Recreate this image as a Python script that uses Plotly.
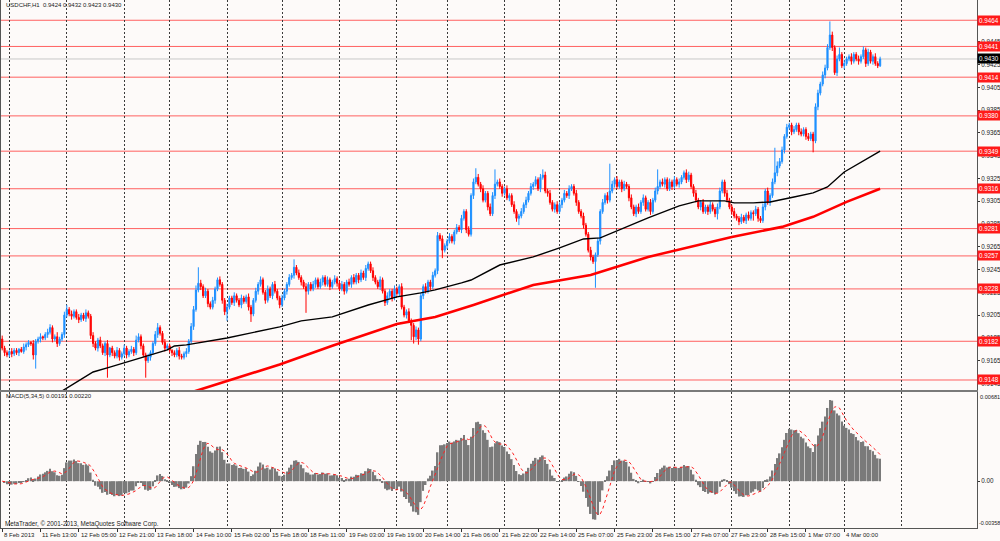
import plotly.graph_objects as go
import pandas as pd

# USDCHF H1, bars from 8 Feb 2013 21:00. Prices kept in pips above 0.9000.
# open of each bar = close of the bar before
FIRST_OPEN = 184
CLOSE_PIPS = [
    176, 172, 170, 173, 171, 174, 172, 175, 173, 177, 179, 181, 180, 170, 182, 184, 186, 185, 188, 190,
    194, 184, 186, 180, 184, 188, 205, 210, 206, 204, 208, 203, 201, 205, 202, 207, 204, 187, 180, 176,
    183, 178, 172, 180, 170, 176, 172, 169, 174, 168, 171, 176, 170, 173, 175, 172, 183, 186, 178, 170,
    165, 168, 172, 180, 188, 194, 189, 181, 176, 178, 174, 172, 170, 174, 169, 168, 171, 173, 182, 195,
    210, 227, 233, 230, 222, 226, 215, 212, 218, 228, 236, 232, 218, 208, 212, 220, 216, 222, 218, 214,
    220, 217, 221, 212, 206, 218, 226, 232, 236, 225, 218, 228, 222, 232, 226, 220, 214, 220, 226, 232,
    238, 240, 247, 242, 238, 234, 230, 226, 232, 228, 232, 236, 230, 234, 238, 232, 236, 230, 234, 237,
    233, 228, 232, 226, 234, 232, 238, 234, 240, 236, 242, 238, 246, 250, 244, 238, 234, 230, 236, 226,
    216, 222, 226, 220, 228, 224, 230, 212, 205, 208, 200, 196, 186, 192, 184, 222, 230, 226, 234, 230,
    240, 244, 275, 272, 262, 266, 270, 274, 270, 278, 282, 280, 290, 296, 280, 276, 310, 322, 326, 320,
    316, 306, 312, 300, 294, 310, 320, 322, 318, 312, 316, 308, 310, 302, 296, 290, 292, 296, 302, 306,
    312, 318, 320, 324, 316, 326, 328, 314, 312, 304, 298, 302, 296, 302, 306, 312, 310, 316, 318, 312,
    304, 296, 292, 284, 276, 262, 256, 252, 258, 270, 296, 304, 310, 306, 314, 320, 324, 318, 322, 316,
    320, 318, 308, 300, 294, 300, 296, 304, 308, 298, 304, 296, 306, 314, 318, 322, 320, 324, 316, 322,
    318, 324, 320, 322, 326, 330, 324, 328, 318, 312, 306, 300, 304, 296, 300, 296, 302, 298, 294, 300,
    314, 322, 312, 306, 300, 296, 292, 290, 287, 291, 288, 293, 290, 295, 294, 298, 290, 288, 300, 314,
    304, 310, 322, 330, 336, 340, 350, 362, 370, 372, 366, 368, 372, 366, 364, 368, 362, 360, 364, 358,
    388, 400, 408, 416, 422, 440, 451, 440, 418, 430, 434, 424, 426, 430, 432, 428, 434, 430, 428, 432,
    438, 426, 436, 428, 432, 426, 424, 430,
]
# wick lengths in pips above / below the body
UP_WICK = [
    3, 2, 2, 1, 3, 2, 2, 1, 2, 3, 2, 2, 1, 3, 2, 2, 3, 1, 2, 3,
    3, 2, 2, 4, 2, 2, 3, 4, 2, 3, 2, 2, 3, 2, 2, 3, 2, 2, 3, 2,
    2, 3, 2, 2, 3, 1, 2, 2, 3, 2, 2, 3, 2, 2, 3, 2, 4, 3, 2, 2,
    2, 3, 2, 2, 3, 4, 2, 2, 3, 2, 2, 1, 2, 2, 3, 2, 2, 3, 2, 3,
    3, 4, 14, 3, 2, 3, 2, 2, 3, 2, 2, 3, 2, 2, 3, 2, 2, 3, 2, 2,
    3, 2, 2, 3, 2, 2, 3, 2, 3, 2, 2, 3, 2, 2, 3, 2, 2, 3, 2, 2,
    3, 2, 7, 2, 3, 2, 2, 3, 2, 2, 3, 2, 2, 3, 2, 2, 3, 2, 2, 3,
    2, 2, 3, 2, 2, 3, 2, 3, 2, 2, 3, 2, 3, 2, 2, 3, 2, 2, 3, 2,
    2, 3, 2, 2, 3, 2, 2, 3, 2, 2, 3, 2, 2, 3, 2, 3, 2, 3, 2, 2,
    3, 2, 3, 2, 3, 2, 2, 3, 2, 2, 3, 2, 3, 2, 2, 3, 2, 3, 8, 3,
    2, 3, 2, 2, 3, 3, 13, 2, 3, 2, 2, 3, 2, 2, 3, 2, 2, 3, 2, 3,
    2, 3, 2, 3, 2, 3, 5, 3, 2, 3, 2, 2, 3, 2, 2, 3, 2, 3, 2, 2,
    3, 2, 2, 3, 2, 2, 3, 2, 2, 3, 2, 3, 2, 3, 24, 3, 2, 3, 2, 2,
    3, 2, 2, 3, 2, 2, 3, 2, 3, 2, 2, 3, 2, 3, 15, 2, 3, 2, 2, 3,
    2, 3, 2, 3, 2, 2, 3, 3, 2, 2, 3, 2, 2, 3, 2, 2, 3, 2, 2, 3,
    3, 2, 2, 3, 2, 2, 3, 2, 2, 3, 2, 2, 3, 2, 2, 3, 2, 2, 3, 2,
    3, 2, 3, 22, 4, 3, 3, 2, 3, 2, 2, 3, 2, 2, 3, 2, 2, 3, 2, 2,
    3, 3, 2, 3, 3, 3, 12, 3, 2, 3, 6, 2, 3, 2, 2, 3, 2, 2, 3, 2,
    3, 2, 3, 2, 2, 3, 2, 2,
]
DN_WICK = [
    2, 3, 2, 2, 3, 2, 2, 3, 1, 2, 3, 2, 2, 4, 12, 2, 3, 2, 2, 3,
    2, 3, 2, 3, 2, 2, 3, 2, 2, 3, 2, 2, 3, 2, 2, 3, 2, 3, 3, 2,
    3, 2, 2, 3, 20, 2, 3, 2, 2, 3, 2, 2, 3, 2, 2, 3, 2, 2, 3, 2,
    15, 2, 3, 2, 2, 3, 2, 2, 3, 2, 2, 3, 2, 2, 3, 2, 2, 3, 2, 2,
    3, 2, 2, 3, 2, 2, 3, 2, 2, 3, 2, 2, 3, 3, 8, 2, 2, 3, 2, 2,
    3, 2, 2, 3, 7, 2, 2, 3, 2, 2, 3, 2, 2, 3, 2, 2, 3, 2, 2, 3,
    2, 2, 3, 2, 2, 3, 2, 19, 3, 2, 2, 3, 2, 2, 3, 2, 2, 3, 2, 2,
    3, 2, 2, 3, 2, 2, 3, 2, 2, 3, 2, 2, 3, 2, 2, 3, 2, 2, 3, 2,
    3, 2, 2, 3, 2, 2, 3, 2, 2, 3, 2, 13, 6, 3, 5, 2, 3, 2, 2, 3,
    2, 2, 3, 2, 7, 2, 3, 2, 2, 3, 2, 2, 3, 2, 3, 2, 2, 3, 2, 2,
    3, 2, 2, 3, 2, 2, 3, 2, 2, 3, 2, 2, 3, 2, 2, 3, 6, 2, 2, 3,
    2, 2, 3, 2, 2, 3, 2, 2, 3, 2, 2, 3, 2, 2, 3, 2, 2, 3, 2, 2,
    3, 2, 2, 3, 2, 2, 3, 2, 23, 2, 3, 2, 2, 3, 2, 2, 3, 2, 2, 3,
    2, 2, 3, 2, 2, 3, 2, 2, 3, 2, 2, 3, 2, 2, 3, 2, 2, 3, 2, 2,
    3, 2, 2, 3, 2, 2, 3, 2, 2, 3, 2, 2, 3, 2, 2, 3, 2, 2, 3, 5,
    2, 2, 3, 2, 2, 3, 2, 2, 3, 2, 2, 3, 2, 2, 6, 2, 3, 2, 2, 3,
    2, 3, 2, 2, 3, 2, 2, 3, 2, 2, 3, 2, 2, 3, 2, 2, 3, 2, 2, 10,
    2, 3, 2, 2, 3, 2, 2, 3, 2, 3, 2, 2, 3, 2, 2, 3, 2, 2, 3, 2,
    2, 3, 2, 2, 3, 2, 2, 1,
]

# moving averages (bar index, pips)
MA_BLACK_IDX = [24, 38, 45, 58, 69, 72, 77, 94, 116, 125, 138, 153, 165, 175, 181, 192, 196, 208,
                222, 233, 243, 250, 256, 270, 283, 291, 302, 306, 314, 321, 331, 339, 345, 352, 367]
MA_BLACK_PIPS = [137, 155, 159.3, 167.3, 174.4, 177.9, 178.8, 184.9, 194.6, 199.9, 203.4, 213.9, 221.0,
                 224.5, 227.1, 233.3, 235.8, 249.0, 256.1, 264.0, 271.9, 272.8, 278.1, 290.4, 300.9,
                 305.3, 305.3, 303.6, 303.6, 304.4, 308.8, 312.3, 317.6, 330.7, 349]
MA_RED_IDX = [78, 94, 116, 138, 165, 181, 197, 222, 246, 270, 305, 326, 339, 353, 367]
MA_RED_PIPS = [136.5, 147.0, 161.6, 178.0, 197.2, 203.4, 213.9, 231.5, 240.3, 256.1, 273.7, 282.5,
               291.3, 304.5, 316]

LEVELS = [0.9464, 0.9441, 0.9414, 0.9380, 0.9349, 0.9316, 0.9281, 0.9257, 0.9228, 0.9182, 0.9148]
LAST_PRICE = 0.9430
PRICE_TICKS = [0.9145, 0.9165, 0.9185, 0.9205, 0.9225, 0.9245, 0.9265, 0.9285, 0.9305, 0.9325,
               0.9345, 0.9365, 0.9385, 0.9405, 0.9425, 0.9445, 0.9465]

LABEL_IDX = [0, 16, 32, 48, 64, 80, 96, 112, 128, 144, 160, 176, 192, 208, 224, 240, 256, 272,
             288, 304, 320, 336, 352]
LABEL_TEXT = ["8 Feb 2013", "11 Feb 13:00", "12 Feb 05:00", "12 Feb 21:00", "13 Feb 18:00",
              "14 Feb 10:00", "15 Feb 02:00", "15 Feb 18:00", "18 Feb 11:00", "19 Feb 03:00",
              "19 Feb 19:00", "20 Feb 14:00", "21 Feb 06:00", "21 Feb 22:00", "22 Feb 14:00",
              "25 Feb 07:00", "25 Feb 23:00", "26 Feb 15:00", "27 Feb 07:00", "27 Feb 23:00",
              "28 Feb 15:00", "1 Mar 07:00", "4 Mar 00:00"]
GRID_IDX = [3, 27, 51, 70, 94, 117, 141, 165, 186, 210, 233, 257, 281, 305, 329, 352, 376]

assert len(CLOSE_PIPS) == len(UP_WICK) == len(DN_WICK) == 368

def px(p):
    return 0.9 + p / 10000.0

idx = list(range(len(CLOSE_PIPS)))
close = [px(p) for p in CLOSE_PIPS]
opens = [px(FIRST_OPEN)] + close[:-1]
high = [max(o, c) + u / 10000.0 for o, c, u in zip(opens, close, UP_WICK)]
low = [min(o, c) - d / 10000.0 for o, c, d in zip(opens, close, DN_WICK)]

# MACD(5,34,5)
cs = pd.Series(close)
macd = cs.ewm(span=5, adjust=False).mean() - cs.ewm(span=34, adjust=False).mean()
signal = macd.rolling(5, min_periods=1).mean()

BG = "#FDFAF9"
FONT = "Liberation Sans"
TXT = "#1a1a1a"
FS = 6.3   # MetaTrader uses tiny labels
XDOM = [0.001, 0.977]

fig = go.Figure()

fig.add_trace(go.Candlestick(
    x=idx, open=opens, high=high, low=low, close=close,
    increasing=dict(line=dict(color="#1E90FF", width=1), fillcolor="#1E90FF"),
    decreasing=dict(line=dict(color="#FF0000", width=1), fillcolor="#FF0000"),
    whiskerwidth=0, showlegend=False, hoverinfo="skip"))

fig.add_trace(go.Scatter(x=MA_BLACK_IDX, y=[px(p) for p in MA_BLACK_PIPS], mode="lines",
                         line=dict(color="#000000", width=1.4), showlegend=False))
fig.add_trace(go.Scatter(x=MA_RED_IDX, y=[px(p) for p in MA_RED_PIPS], mode="lines",
                         line=dict(color="#FF0000", width=2.6), showlegend=False))

fig.add_trace(go.Bar(x=idx, y=macd, xaxis="x2", yaxis="y2",
                     marker=dict(color="#7A7A7A", line=dict(width=0)), showlegend=False))
fig.add_trace(go.Scatter(x=idx, y=signal, xaxis="x2", yaxis="y2", mode="lines",
                         line=dict(color="#FF2020", width=1, dash="dot"), showlegend=False))

# support / resistance levels
for lv in LEVELS:
    fig.add_hline(y=lv, line=dict(color="#FF6060", width=1), layer="below")
    fig.add_annotation(x=XDOM[1], xref="paper", y=lv, yref="y", text=f"{lv:.4f}",
                       xanchor="left", yanchor="middle", showarrow=False, bgcolor="#FF1A1A",
                       borderpad=1, font=dict(family=FONT, size=FS, color="white"))

fig.add_hline(y=LAST_PRICE, line=dict(color="#C8C8C8", width=1), layer="below")
fig.add_annotation(x=XDOM[1], xref="paper", y=LAST_PRICE, yref="y", text=f"{LAST_PRICE:.4f}",
                   xanchor="left", yanchor="middle", showarrow=False, bgcolor="#000000",
                   borderpad=1, font=dict(family=FONT, size=FS, color="white"))

# time labels along the bottom
for i, t in zip(LABEL_IDX, LABEL_TEXT):
    fig.add_annotation(x=i, xref="x2", y=0.011, yref="paper", text=t, xanchor="left",
                       yanchor="middle", showarrow=False, font=dict(family=FONT, size=6, color=TXT))

fig.add_annotation(x=0.004, xref="paper", y=0.991, yref="paper",
                   text="USDCHF,H1  0.9424 0.9432 0.9423 0.9430", xanchor="left", yanchor="middle",
                   showarrow=False, font=dict(family=FONT, size=6, color=TXT))
fig.add_annotation(x=0.004, xref="paper", y=0.268, yref="paper",
                   text="MACD(5,34,5) 0.00191 0.00220", xanchor="left", yanchor="middle",
                   showarrow=False, font=dict(family=FONT, size=6, color=TXT))
fig.add_annotation(x=0.003, xref="paper", y=0.031, yref="paper",
                   text="MetaTrader, © 2001-2013, MetaQuotes Software Corp.", xanchor="left",
                   yanchor="middle", showarrow=False, font=dict(family=FONT, size=FS, color=TXT))
fig.add_annotation(x=0.978, xref="paper", y=0.00681, yref="y2", text="0.00681", xanchor="left",
                   yanchor="top", showarrow=False, font=dict(family=FONT, size=5.6, color=TXT))
fig.add_annotation(x=0.977, xref="paper", y=-0.00358, yref="y2", text="-0.00358", xanchor="left",
                   yanchor="bottom", showarrow=False, font=dict(family=FONT, size=5.4, color=TXT))

grid = dict(showgrid=True, gridcolor="#3A3A3A", griddash="2px,2px", gridwidth=1)

fig.update_layout(
    width=1000, height=541, autosize=False,
    margin=dict(l=0, r=0, t=0, b=0, pad=0),
    paper_bgcolor=BG, plot_bgcolor=BG,
    hovermode=False, bargap=0.3, showlegend=False,
    font=dict(family=FONT, size=FS, color=TXT),
    xaxis=dict(domain=XDOM, range=[-0.5, 407.5], anchor="y", rangeslider=dict(visible=False),
               tickmode="array", tickvals=GRID_IDX, showticklabels=False, ticks="",
               zeroline=False, showline=True, linecolor="#7A7A7A", linewidth=2, **grid),
    yaxis=dict(domain=[0.2791, 1], range=[0.91392, 0.94818], anchor="x", side="right",
               tickmode="array", tickvals=PRICE_TICKS, tickformat=".4f", ticks="outside",
               ticklen=2, tickcolor="#333", showgrid=False, zeroline=False,
               tickfont=dict(family=FONT, size=FS, color=TXT),
               showline=True, linecolor="#555", mirror=True, automargin=False),
    xaxis2=dict(domain=XDOM, range=[-0.5, 407.5], anchor="y2", matches="x",
                tickmode="array", tickvals=LABEL_IDX, showticklabels=False, ticks="outside",
                ticklen=3, tickcolor="#333", showgrid=False, zeroline=False,
                minor=dict(tickmode="array", tickvals=GRID_IDX, ticks="", **grid),
                showline=True, linecolor="#555", linewidth=1),
    yaxis2=dict(domain=[0.024, 0.2754], range=[-0.00358, 0.00681], anchor="x2", side="right",
                tickmode="array", tickvals=[0], ticktext=["0.00"], ticks="outside", ticklen=2,
                tickcolor="#333", showgrid=False, zeroline=False,
                tickfont=dict(family=FONT, size=FS, color=TXT),
                showline=True, linecolor="#555", mirror=True, automargin=False),
)

fig.write_html("out.html", config={"displayModeBar": False},
               post_script="document.body.style.margin='0';document.body.style.overflow='hidden';")
